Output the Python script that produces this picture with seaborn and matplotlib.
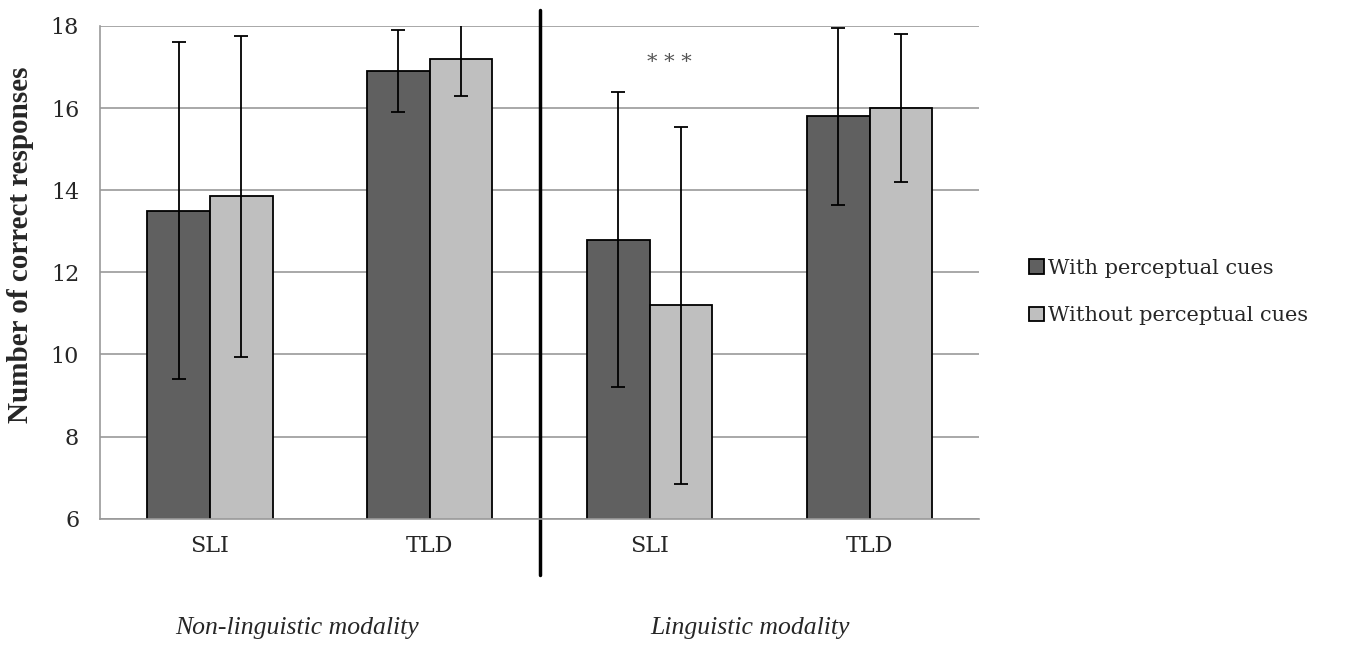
import numpy as np
import pandas as pd
import matplotlib
matplotlib.use('Agg')
import matplotlib.pyplot as plt
import seaborn as sns

# data
groups = ['Non-linguistic SLI', 'Non-linguistic TLD', 'Linguistic SLI', 'Linguistic TLD']
tick_labels = ['SLI', 'TLD', 'SLI', 'TLD']
conditions = ['With perceptual cues', 'Without perceptual cues']
with_cues = [13.5, 16.9, 12.8, 15.8]
without_cues = [13.85, 17.2, 11.2, 16.0]
with_err = [4.1, 1.0, 3.6, 2.15]
without_err = [3.9, 0.9, 4.35, 1.8]
modalities = ['Non-linguistic modality', 'Linguistic modality']

df = pd.DataFrame({
    'group': groups * 2,
    'condition': [conditions[0]] * 4 + [conditions[1]] * 4,
    'value': with_cues + without_cues,
})

sns.set_style('white')
plt.rcParams['font.family'] = ['DejaVu Serif']

fig, ax = plt.subplots(figsize=(13.51, 6.5), dpi=100)
fig.subplots_adjust(left=0.074, right=0.725, top=0.96, bottom=0.202)

sns.barplot(data=df, x='group', y='value', hue='condition', order=groups,
            hue_order=conditions, palette=['#606060', '#bfbfbf'], width=0.57,
            edgecolor='black', linewidth=1.3, ax=ax)

# error bars on top of each bar
for cont, errs in zip(ax.containers, [with_err, without_err]):
    xs = [b.get_x() + b.get_width() / 2 for b in cont]
    ys = [b.get_height() for b in cont]
    ax.errorbar(xs, ys, yerr=errs, fmt='none', ecolor='black',
                elinewidth=1.3, capsize=5, capthick=1.3)

ax.set_ylim(6, 18)
ax.set_xlim(-0.5, 3.5)
ax.set_yticks(np.arange(6, 19, 2))
ax.set_xticks(range(4))
ax.set_xticklabels(tick_labels, fontsize=16)
ax.set_xticks(np.arange(-0.5, 4, 1), minor=True)
ax.tick_params(axis='x', which='major', length=0, pad=12)
ax.tick_params(axis='x', which='minor', length=6, color='#999999', direction='out')
ax.tick_params(axis='y', length=7, color='#999999', direction='out', labelsize=16, pad=8)
ax.yaxis.grid(True, color='#999999', lw=1.2)
ax.set_axisbelow(True)
sns.despine(ax=ax)
for s in ['left', 'bottom']:
    ax.spines[s].set_color('#999999')
    ax.spines[s].set_linewidth(1.2)

ax.set_xlabel('')
ax.set_ylabel('Number of correct responses', fontsize=21, fontweight='bold',
              family='Liberation Serif')
ax.yaxis.set_label_coords(-0.075, 0.556)

# separator between modalities
ax.axvline(1.5, ymin=-0.114, ymax=1.032, color='black', lw=2.5, clip_on=False)

ax.text(2.09, 17.1, '* * *', ha='center', va='center', fontsize=15, color='#555555')

fig.text(0.22, 0.034, modalities[0], ha='center', va='center', fontsize=18.5,
         style='italic', family='Liberation Serif')
fig.text(0.555, 0.034, modalities[1], ha='center', va='center', fontsize=18.5,
         style='italic', family='Liberation Serif')

sns.move_legend(ax, 'center left', bbox_to_anchor=(1.035, 0.46), frameon=False,
                title=None, fontsize=15, handlelength=0.7, handleheight=0.7,
                handletextpad=0.2, labelspacing=1.35)

fig.savefig('out.png', dpi=100)
